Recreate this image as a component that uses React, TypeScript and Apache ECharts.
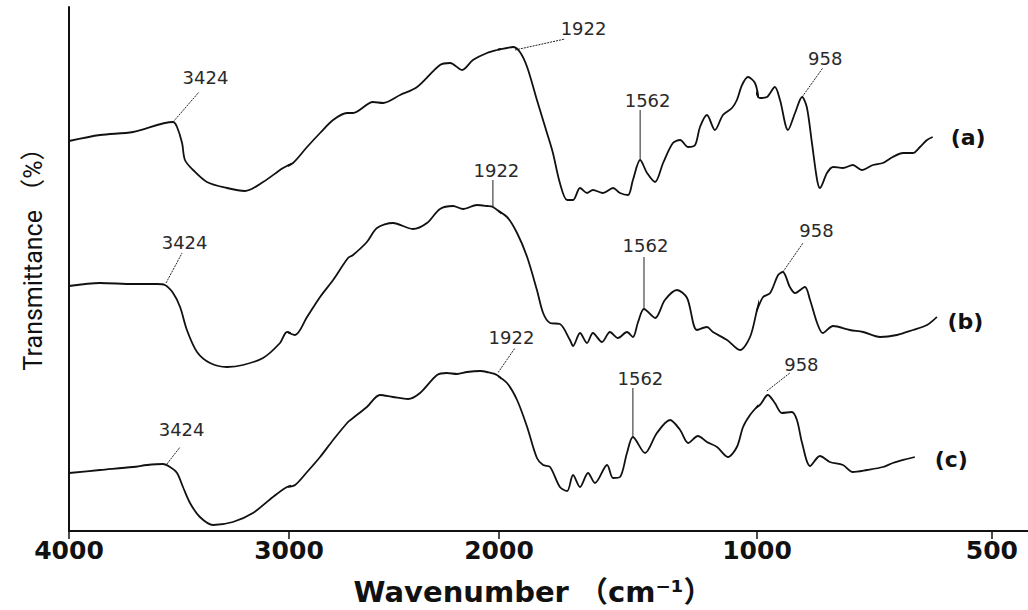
import React, { useEffect, useRef } from 'react';
import * as echarts from 'echarts';

// ---------------- DATA ----------------
// Tick labels of the wavenumber axis (cm-1); the original axis is drawn in pieces
const tickLabels: number[] = [4000, 3000, 2000, 1000, 500];
// Wavenumber range of each axis piece (cm-1) and the ticks it carries
const axisPieces: [number, number][] = [[3000, 4000], [2000, 3000], [1000, 2000], [423, 1000]];
const pieceTicks: number[][] = [[4000, 3000], [2000], [1000], [500]];

// Transmittance axis (traces are offset; arbitrary units)
const tMin = 0;
const tMax = 524;

const xTitle = 'Wavenumber （cm⁻¹）';
const yTitle = 'Transmittance （%）';
const traceNames: string[] = ['(a)', '(b)', '(c)'];

// [wavenumber cm-1, transmittance (offset, a.u.)]
const traceA: [number, number][] = [
  [4000, 390], [3859, 396], [3709, 399], [3527, 409], [3509, 404], [3486, 388], [3473, 371], [3436, 361],
  [3373, 349], [3282, 343], [3200, 340], [3118, 349], [3027, 363], [2981, 368], [2914, 384], [2852, 398],
  [2790, 411], [2724, 418], [2695, 418], [2600, 429], [2552, 428], [2471, 436], [2390, 444], [2281, 466],
  [2233, 468], [2176, 461], [2124, 471], [2057, 478], [2010, 481], [1969, 483], [1946, 484], [1919, 479],
  [1891, 464], [1853, 431], [1814, 398], [1791, 378], [1764, 348], [1736, 331], [1713, 331], [1686, 343],
  [1659, 338], [1636, 341], [1597, 338], [1558, 343], [1531, 338], [1500, 336], [1481, 351], [1453, 371],
  [1426, 358], [1395, 349], [1364, 368], [1326, 388], [1298, 391], [1267, 384], [1240, 386], [1221, 404],
  [1194, 416], [1163, 401], [1132, 416], [1097, 423], [1078, 431], [1058, 446], [1035, 454], [1008, 448],
  [994, 433], [979, 434], [962, 444], [951, 431], [934, 401], [919, 418], [904, 434], [894, 424],
  [883, 388], [872, 351], [866, 343], [851, 358], [838, 364], [817, 363], [796, 366], [777, 361],
  [753, 366], [732, 368], [711, 374], [689, 378], [668, 378], [653, 384], [638, 391], [626, 394],
];

const traceB: [number, number][] = [
  [4000, 245], [3859, 248], [3709, 247], [3600, 247], [3564, 246], [3527, 238], [3495, 224], [3464, 201],
  [3418, 179], [3359, 168], [3282, 164], [3209, 166], [3118, 173], [3041, 188], [3009, 199], [2971, 196],
  [2914, 214], [2852, 234], [2790, 251], [2719, 273], [2695, 276], [2629, 289], [2581, 303], [2505, 308],
  [2410, 302], [2343, 308], [2281, 322], [2219, 325], [2171, 322], [2105, 326], [2057, 325], [2029, 324],
  [1969, 314], [1930, 298], [1891, 274], [1853, 241], [1829, 218], [1802, 208], [1764, 207], [1725, 191],
  [1713, 185], [1686, 198], [1659, 188], [1636, 198], [1601, 189], [1570, 199], [1539, 193], [1504, 199],
  [1481, 194], [1461, 209], [1438, 222], [1395, 213], [1357, 231], [1310, 241], [1271, 233], [1233, 201],
  [1194, 204], [1171, 199], [1116, 191], [1066, 181], [1027, 194], [1000, 221], [987, 234], [972, 238],
  [955, 256], [945, 259], [930, 244], [919, 238], [898, 244], [887, 231], [872, 208], [860, 198],
  [838, 205], [802, 201], [774, 199], [738, 194], [702, 196], [668, 201], [638, 206], [617, 214],
];

const traceC: [number, number][] = [
  [4000, 58], [3859, 61], [3709, 64], [3645, 66], [3573, 67], [3541, 64], [3509, 58], [3482, 44],
  [3450, 28], [3405, 14], [3345, 6], [3255, 9], [3164, 18], [3073, 34], [3009, 44], [2971, 46],
  [2914, 59], [2852, 74], [2790, 91], [2719, 109], [2695, 113], [2629, 124], [2567, 136], [2505, 134],
  [2433, 132], [2376, 138], [2295, 156], [2248, 158], [2200, 157], [2152, 159], [2090, 160], [2057, 159],
  [2010, 156], [1969, 148], [1930, 131], [1891, 104], [1853, 73], [1829, 66], [1802, 64], [1764, 44],
  [1736, 40], [1713, 56], [1686, 44], [1655, 58], [1628, 48], [1581, 66], [1558, 53], [1531, 54],
  [1504, 78], [1481, 94], [1434, 78], [1388, 98], [1337, 111], [1298, 101], [1267, 88], [1229, 95],
  [1194, 89], [1155, 84], [1113, 74], [1078, 84], [1054, 104], [1027, 116], [994, 126], [977, 136],
  [962, 128], [947, 118], [926, 119], [915, 111], [904, 88], [887, 65], [866, 75], [845, 69],
  [817, 66], [796, 59], [766, 61], [732, 64], [711, 68], [681, 72], [664, 74],
];

const traces = [traceA, traceB, traceC];

// Band labels and their leader lines: [trace, label, band point, leader end]
const bandNames: string[] = ['3424', '1922', '1562', '958'];
const bandLeaders: [number, number, [number, number], [number, number]][] = [
  [0, 0, [3527, 409], [3409, 439]],
  [0, 1, [1938, 481], [1744, 492]],
  [0, 2, [1453, 371], [1453, 421]],
  [0, 3, [904, 434], [860, 463]],
  [1, 0, [3559, 248], [3486, 278]],
  [1, 1, [2029, 324], [2029, 351]],
  [1, 2, [1438, 222], [1438, 274]],
  [1, 3, [945, 259], [902, 288]],
  [2, 0, [3555, 67], [3495, 84]],
  [2, 1, [2010, 156], [1938, 183]],
  [2, 2, [1481, 94], [1481, 143]],
  [2, 3, [979, 140], [930, 158]],
];

// ---------------- LAYOUT (pixels) ----------------
const GRID_TOP = 7;
const GRID_HEIGHT = 524;
const pieceLeft = [69, 289, 499, 757];
const pieceWidth = [220, 210, 258, 271];
const bandLabelOffset: [number, number][] = [
  [7, -14], [19, -10], [8, -9], [3, -9],
  [3, -10], [4, -9], [2, -11], [14, -12],
  [2, -17], [-3, -10], [8, -9], [12, -8],
];
const traceLabelOffset: [number, number][] = [[36, 1], [29, 5], [37, 3]];

const INK = '#111111';

function pieceOf(wn: number): number {
  for (let i = 0; i < axisPieces.length; i++) {
    const [lo, hi] = axisPieces[i];
    if (wn >= lo && wn <= hi) return i;
  }
  return axisPieces.length - 1;
}

function sliceFor(trace: [number, number][], lo: number, hi: number) {
  const inside = (w: number) => w >= lo && w <= hi;
  const out: [number, number][] = [];
  for (let i = 0; i < trace.length; i++) {
    const here = inside(trace[i][0]);
    const prev = i > 0 && inside(trace[i - 1][0]);
    const next = i < trace.length - 1 && inside(trace[i + 1][0]);
    if (here || prev || next) out.push(trace[i]);
  }
  return out;
}

function buildOption() {
  const grid = pieceLeft.map((left, i) => ({
    left,
    width: pieceWidth[i],
    top: GRID_TOP,
    height: GRID_HEIGHT,
    containLabel: false,
    outerBoundsMode: 'none',
  }));

  const xAxis = axisPieces.map(([min, max], i) => ({
    type: 'value',
    gridIndex: i,
    min,
    max,
    inverse: true,
    axisLine: { show: true, onZero: false, lineStyle: { color: INK, width: 2 } },
    axisTick: { show: true, customValues: pieceTicks[i], length: 8, lineStyle: { color: INK, width: 1.5 } },
    axisLabel: {
      show: true,
      customValues: pieceTicks[i],
      margin: 7,
      color: INK,
      fontFamily: "'DejaVu Sans', sans-serif",
      fontWeight: 'bold',
      fontSize: 25,
      formatter: (v: number) => (tickLabels.includes(v) ? String(v) : ''),
    },
    splitLine: { show: false },
  }));

  const yAxis = axisPieces.map((_, i) => ({
    type: 'value',
    gridIndex: i,
    min: tMin,
    max: tMax,
    show: i === 0,
    axisLine: { show: true, onZero: false, lineStyle: { color: INK, width: 2 } },
    axisTick: { show: false },
    axisLabel: { show: false },
    splitLine: { show: false },
  }));

  const series: any[] = [];
  traces.forEach((trace, t) => {
    axisPieces.forEach(([lo, hi], p) => {
      const part = sliceFor(trace, lo, hi);
      if (part.length < 2) return;
      series.push({
        type: 'line',
        name: traceNames[t],
        xAxisIndex: p,
        yAxisIndex: p,
        data: part,
        showSymbol: false,
        symbol: 'none',
        smooth: 0.3,
        clip: true,
        silent: true,
        lineStyle: { color: INK, width: 1.8 },
      });
    });
    const last = trace[trace.length - 1];
    const lp = pieceOf(last[0]);
    series.push({
      type: 'scatter',
      xAxisIndex: lp,
      yAxisIndex: lp,
      data: [last],
      symbolSize: 1,
      silent: true,
      itemStyle: { color: 'rgba(0,0,0,0)', opacity: 1 },
      label: {
        show: true,
        formatter: traceNames[t],
        position: traceLabelOffset[t],
        align: 'center',
        verticalAlign: 'middle',
        color: INK,
        fontFamily: "'DejaVu Sans', sans-serif",
        fontWeight: 'bold',
        fontSize: 22,
      },
    });
  });

  bandLeaders.forEach(([t, b, from, to], k) => {
    const p = pieceOf(to[0]);
    const vertical = from[0] === to[0];
    series.push({
      type: 'line',
      name: traceNames[t] + ' ' + bandNames[b],
      xAxisIndex: p,
      yAxisIndex: p,
      clip: false,
      silent: true,
      symbol: 'circle',
      symbolSize: 1,
      showSymbol: true,
      itemStyle: { color: 'rgba(0,0,0,0)' },
      lineStyle: { color: '#222222', width: 1, type: vertical ? 'solid' : [2, 1] },
      data: [
        { value: from },
        {
          value: to,
          label: {
            show: true,
            formatter: bandNames[b],
            position: bandLabelOffset[k],
            align: 'center',
            verticalAlign: 'middle',
            color: '#2a2a2a',
            fontFamily: "'DejaVu Sans', sans-serif",
            fontSize: 18,
          },
        },
      ],
      z: 5,
    });
  });

  return {
    animation: false,
    backgroundColor: '#ffffff',
    grid,
    xAxis,
    yAxis,
    series,
    graphic: [
      {
        type: 'text',
        x: 533,
        y: 592,
        silent: true,
        style: {
          text: xTitle,
          fill: INK,
          font: "bold 29px 'DejaVu Sans', 'Noto Sans CJK SC', sans-serif",
          align: 'center',
          verticalAlign: 'middle',
          textAlign: 'center',
          textVerticalAlign: 'middle',
        },
      },
      {
        type: 'text',
        x: 33,
        y: 253,
        rotation: Math.PI / 2,
        silent: true,
        style: {
          text: yTitle,
          fill: INK,
          font: "25px Roboto, 'Noto Sans CJK SC', sans-serif",
          align: 'center',
          verticalAlign: 'middle',
          textAlign: 'center',
          textVerticalAlign: 'middle',
        },
      },
    ],
  };
}

export default function App() {
  const ref = useRef<HTMLDivElement>(null);
  useEffect(() => {
    if (!ref.current) return;
    const chart = echarts.init(ref.current, null, { renderer: 'svg' });
    chart.setOption(buildOption() as any);
    return () => chart.dispose();
  }, []);
  return (
    <div
      ref={ref}
      style={{ position: 'fixed', left: 0, top: 0, width: 1028, height: 610, background: '#fff' }}
    />
  );
}
